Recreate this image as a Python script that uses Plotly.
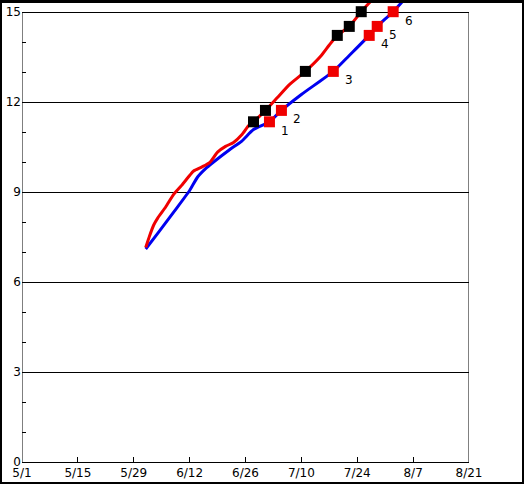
import plotly.graph_objects as go

# ---- data ----
blue_dates = ["2021-06-01", "2021-06-04", "2021-06-08", "2021-06-12", "2021-06-14",
              "2021-06-16", "2021-06-18", "2021-06-22", "2021-06-25", "2021-06-28",
              "2021-07-02", "2021-07-05", "2021-07-10", "2021-07-18", "2021-07-22",
              "2021-07-27", "2021-07-29", "2021-08-02", "2021-08-05"]
blue_values = [7.10, 7.62, 8.33, 9.05, 9.50, 9.78, 10.00, 10.41, 10.69, 11.08,
               11.34, 11.72, 12.25, 13.02, 13.55, 14.22, 14.52, 15.01, 15.45]

red_dates = ["2021-06-01", "2021-06-02", "2021-06-03", "2021-06-04", "2021-06-06",
             "2021-06-08", "2021-06-10", "2021-06-12", "2021-06-13", "2021-06-15",
             "2021-06-17", "2021-06-19", "2021-06-21", "2021-06-23", "2021-06-25",
             "2021-06-27", "2021-06-28", "2021-07-01", "2021-07-04", "2021-07-07",
             "2021-07-11", "2021-07-15", "2021-07-17", "2021-07-19", "2021-07-22",
             "2021-07-25", "2021-07-28"]
red_values = [7.15, 7.55, 7.90, 8.13, 8.50, 8.92, 9.22, 9.55, 9.70, 9.83,
              9.98, 10.33, 10.52, 10.65, 10.90, 11.25, 11.34, 11.72, 12.15, 12.58,
              13.02, 13.55, 13.90, 14.22, 14.52, 15.01, 15.45]

stage_values = [11.34, 11.72, 13.02, 14.22, 14.52, 15.01]
black_marker_dates = ["2021-06-28", "2021-07-01", "2021-07-11", "2021-07-19", "2021-07-22", "2021-07-25"]
red_marker_dates = ["2021-07-02", "2021-07-05", "2021-07-18", "2021-07-27", "2021-07-29", "2021-08-02"]
stage_labels = ["1", "2", "3", "4", "5", "6"]

x_start, x_end = "2021-05-01", "2021-08-21"
y_ticks = [0, 3, 6, 9, 12, 15]

RED = "#f00000"
BLUE = "#0000f0"
FONT = dict(family="DejaVu Sans", size=12, color="black")

fig = go.Figure()
fig.add_trace(go.Scatter(x=blue_dates, y=blue_values, mode="lines",
                         line=dict(color=BLUE, width=3, shape="spline", smoothing=0.6),
                         showlegend=False))
fig.add_trace(go.Scatter(x=red_dates, y=red_values, mode="lines",
                         line=dict(color=RED, width=3, shape="spline", smoothing=0.6),
                         showlegend=False))
fig.add_trace(go.Scatter(x=black_marker_dates, y=stage_values, mode="markers",
                         marker=dict(symbol="square", size=11, color="black",
                                     line=dict(width=0)), showlegend=False))
fig.add_trace(go.Scatter(x=red_marker_dates, y=stage_values, mode="markers",
                         marker=dict(symbol="square", size=11, color=RED,
                                     line=dict(width=0)), showlegend=False))

for d, v, lab in zip(red_marker_dates, stage_values, stage_labels):
    fig.add_annotation(x=d, y=v, text=lab, showarrow=False, font=FONT,
                       xshift=16, yshift=-9)

# frame verticals (box only up to 15)
for xv in (x_start, x_end):
    fig.add_shape(type="line", xref="x", yref="y", x0=xv, x1=xv, y0=0, y1=15,
                  line=dict(color="black", width=1))

# outer black border of the image
L, T, R, B = 22, 0, 55, 22
W, H = 524 - L - R, 484 - T - B
def px_x(p):
    return (p - L) / W
def px_y(p):
    return (484 - B - p) / H
border = [(0, 0, 524, 3), (0, 0, 2, 484), (522, 0, 524, 484), (0, 482, 524, 484)]
for x0, y0, x1, y1 in border:
    fig.add_shape(type="rect", xref="paper", yref="paper",
                  x0=px_x(x0), x1=px_x(x1), y0=px_y(y1), y1=px_y(y0),
                  fillcolor="black", line=dict(width=0), layer="above")

fig.update_layout(
    width=524, height=484,
    margin=dict(l=L, r=R, t=T, b=B, pad=0),
    paper_bgcolor="white", plot_bgcolor="white",
    font=FONT,
    xaxis=dict(type="date", range=[x_start, x_end], tick0=x_start,
               dtick=14 * 86400000, tickformat="%-m/%-d",
               ticks="inside", ticklen=5, tickcolor="black",
               showline=True, linecolor="black", linewidth=1,
               showgrid=False, zeroline=False, fixedrange=True),
    yaxis=dict(range=[0, (484 - B) / 30.0], tickvals=y_ticks,
               ticks="inside", ticklen=4, tickcolor="black",
               minor=dict(dtick=1, tick0=0, ticks="inside", ticklen=4, tickcolor="black", showgrid=False),
               showline=False, showgrid=True, gridcolor="black", gridwidth=1,
               zeroline=False, fixedrange=True),
)

fig.write_html("out.html", config={"displayModeBar": False},
               post_script="document.body.style.margin='0';")
